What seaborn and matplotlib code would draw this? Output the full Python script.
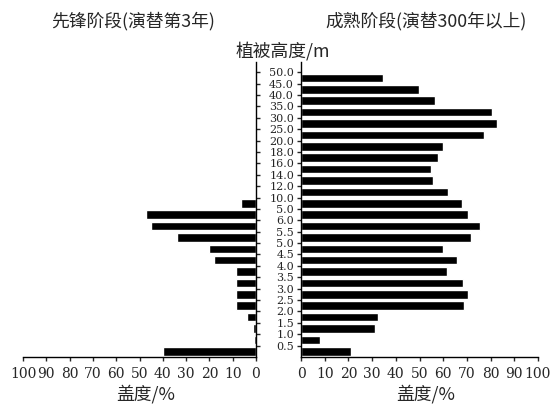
import numpy as np
import pandas as pd
import seaborn as sns
import matplotlib.pyplot as plt

# height-axis tick labels, bottom to top (the "5.0" above 6.0 is as printed)
height_ticks = ['0.5', '1.0', '1.5', '2.0', '2.5', '3.0', '3.5', '4.0', '4.5', '5.0',
                '5.5', '6.0', '5.0', '10.0', '12.0', '14.0', '16.0', '18.0', '20.0',
                '25.0', '30.0', '35.0', '40.0', '45.0', '50.0']
# cover (%) for each height class, lowest class first
pioneer_cover = [40, 1.0, 1.3, 3.9, 8.7, 8.7, 8.7, 8.7, 18.2, 20.3, 34, 45, 47.3, 6.4,
                 0, 0, 0, 0, 0, 0, 0, 0, 0, 0, 0]
mature_cover = [20.9, 8.2, 31.4, 32.4, 68.6, 70.3, 68.5, 61.5, 65.9, 60, 71.6, 75.5, 70.3,
                67.8, 62, 55.8, 54.8, 57.6, 59.9, 77.2, 82.5, 80.8, 56.5, 49.9, 34.6]
cover_ticks = list(range(0, 101, 10))

sns.set_style("ticks")
plt.rcParams['font.family'] = ['Noto Sans CJK SC', 'DejaVu Sans']

# one slot per height class, bars sit between the boundary ticks
slot = np.arange(len(height_ticks)) + 0.5
df = pd.DataFrame({'slot': slot, 'pioneer': pioneer_cover, 'mature': mature_cover})

fig = plt.figure(figsize=(5.59, 4.09), dpi=100)
axL = fig.add_axes([23 / 559, 52 / 409, 233 / 559, 295 / 409])
axR = fig.add_axes([301 / 559, 52 / 409, 237 / 559, 295 / 409])

for ax, col in [(axL, 'pioneer'), (axR, 'mature')]:
    sns.barplot(data=df, x=col, y='slot', orient='h', native_scale=True,
                color='black', saturation=1, width=0.75, errorbar=None, ax=ax)
    ax.set_ylim(0, 25.9)
    ax.set_yticks(np.arange(1, len(height_ticks) + 1))
    ax.set_xticks(cover_ticks)
    ax.set_xticklabels([str(t) for t in cover_ticks], family='DejaVu Serif', fontsize=10)
    ax.set_ylabel('')
    ax.set_xlabel('')
    ax.spines['top'].set_visible(False)
    ax.tick_params(axis='x', direction='out', length=3, width=1, pad=4)
    ax.tick_params(axis='y', direction='out', length=3, width=1, pad=2)
    for s in ax.spines.values():
        s.set_linewidth(1)
        s.set_color('black')

# left panel grows to the left, ticks on its right spine
axL.set_xlim(100, 0)
axL.spines['left'].set_visible(False)
axL.yaxis.tick_right()
axL.tick_params(axis='y', labelright=False)

axR.set_xlim(0, 100)
axR.spines['right'].set_visible(False)
axR.set_yticklabels(height_ticks, family='DejaVu Serif', fontsize=8)

title_kw = dict(ha='center', va='center', fontsize=12.8)
fig.text(133 / 559, 1 - 21.5 / 409, '先锋阶段(演替第3年)', **title_kw)
fig.text(426 / 559, 1 - 21.5 / 409, '成熟阶段(演替300年以上)', **title_kw)
fig.text(283 / 559, 1 - 51 / 409, '植被高度/m', **title_kw)
fig.text(146 / 559, 1 - 394 / 409, '盖度/%', **title_kw)
fig.text(426 / 559, 1 - 394 / 409, '盖度/%', **title_kw)

fig.savefig('out.png', dpi=100)
